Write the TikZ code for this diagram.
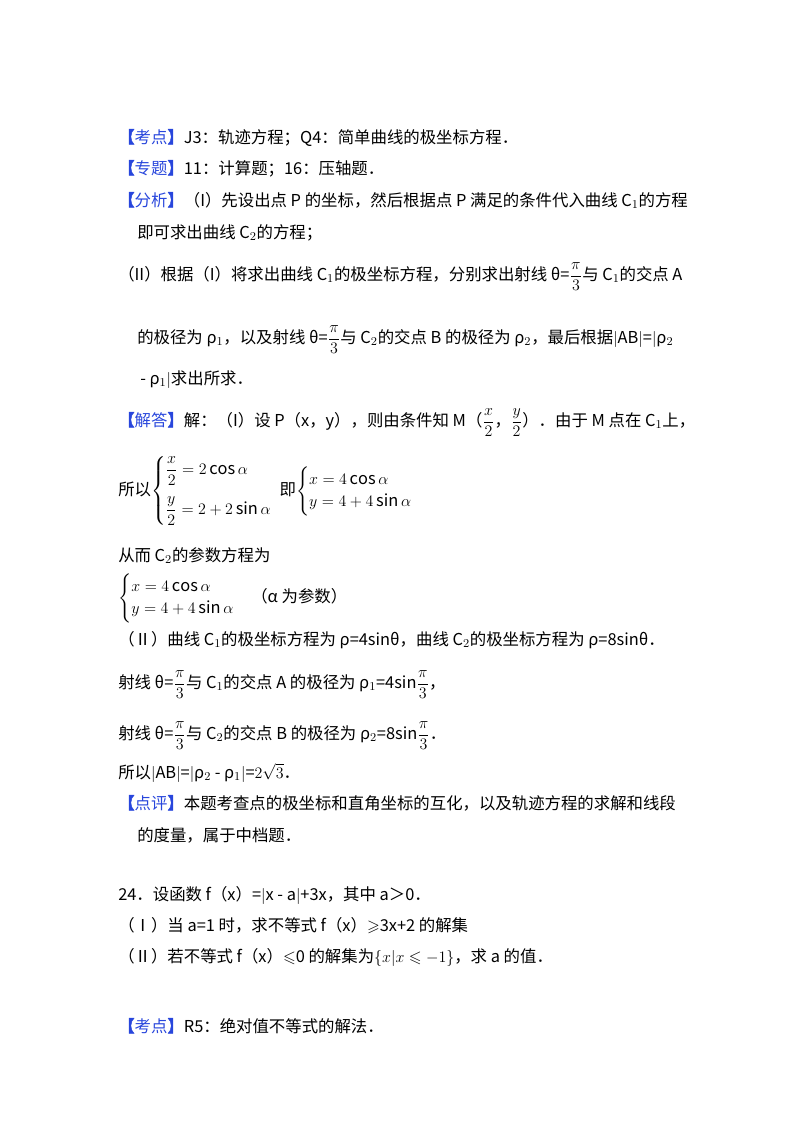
\documentclass[tikz,border=0pt]{standalone}
\usepackage{amsmath,amssymb}
\usepackage{fontspec}
\setmainfont{Noto Sans CJK SC}
\newfontfamily\bkfont[FakeBold=2.5]{Noto Sans CJK SC}
\definecolor{kb}{RGB}{40,70,220}
\newcommand{\kd}[1]{\textcolor{kb}{{\bkfont 【}#1{\bkfont 】}}}
\begin{document}
\begin{tikzpicture}[x=0.75pt,y=-0.75pt,every node/.style={anchor=base west,inner sep=0pt,font=\fontsize{12.3pt}{14pt}\selectfont}]
\useasboundingbox (0,0) rectangle (800,1132);
\node (l1) at (118,143) {\kd{考点}J3：轨迹方程；Q4：简单曲线的极坐标方程．};
\node (l2) at (118,174) {\kd{专题}11：计算题；16：压轴题．};
\node (l3) at (118,206) {\kd{分析}（I）先设出点 P 的坐标，然后根据点 P 满足的条件代入曲线 C$_1$的方程};
\node (l4) at (137,238) {即可求出曲线 C$_2$的方程；};
\node (l5) at (118,280) {（II）根据（I）将求出曲线 C$_1$的极坐标方程，分别求出射线 θ=$\dfrac{\pi}{3}$与 C$_1$的交点 A};
\node (l6) at (137,343) {的极径为 ρ$_1$，以及射线 θ=$\dfrac{\pi}{3}$与 C$_2$的交点 B 的极径为 ρ$_2$，最后根据$|$AB$|$=$|$ρ$_2$};
\node (l7) at (140,384) {- ρ$_1|$求出所求．};
\node (l8) at (118,426) {\kd{解答}解：（I）设 P（x，y），则由条件知 M（$\dfrac{x}{2}$，$\dfrac{y}{2}$）．由于 M 点在 C$_1$上，};
\node (l9) at (118,495) {所以$\left\{\begin{array}{@{}l@{}}\dfrac{x}{2}=2\cos\alpha\\[12pt]\dfrac{y}{2}=2+2\sin\alpha\end{array}\right.$ \ 即$\begin{cases}x=4\cos\alpha\\y=4+4\sin\alpha\end{cases}$};
\node (l10) at (118,561) {从而 C$_2$的参数方程为};
\node (l11) at (118,602) {$\begin{cases}x=4\cos\alpha\\y=4+4\sin\alpha\end{cases}$（α 为参数）};
\node (l12) at (118,645) {（Ⅱ）曲线 C$_1$的极坐标方程为 ρ=4sinθ，曲线 C$_2$的极坐标方程为 ρ=8sinθ．};
\node (l13) at (118,688) {射线 θ=$\dfrac{\pi}{3}$与 C$_1$的交点 A 的极径为 ρ$_1$=4sin$\dfrac{\pi}{3}$，};
\node (l14) at (118,739) {射线 θ=$\dfrac{\pi}{3}$与 C$_2$的交点 B 的极径为 ρ$_2$=8sin$\dfrac{\pi}{3}$．};
\node (l15) at (118,778) {所以$|$AB$|$=$|$ρ$_2$ - ρ$_1|$=$2\sqrt{3}$．};
\node (l16) at (118,809) {\kd{点评}本题考查点的极坐标和直角坐标的互化，以及轨迹方程的求解和线段};
\node (l17) at (137,841) {的度量，属于中档题．};
\node (l18) at (118,900) {24．设函数 f（x）=$|$x - a$|$+3x，其中 a＞0．};
\node (l19) at (118,931) {（Ⅰ）当 a=1 时，求不等式 f（x）$\geqslant$3x+2 的解集};
\node (l20) at (118,962) {（Ⅱ）若不等式 f（x）$\leqslant$0 的解集为$\{x|x\leqslant -1\}$，求 a 的值．};
\node (l21) at (118,1032) {\kd{考点}R5：绝对值不等式的解法．};
\end{tikzpicture}
\end{document}
